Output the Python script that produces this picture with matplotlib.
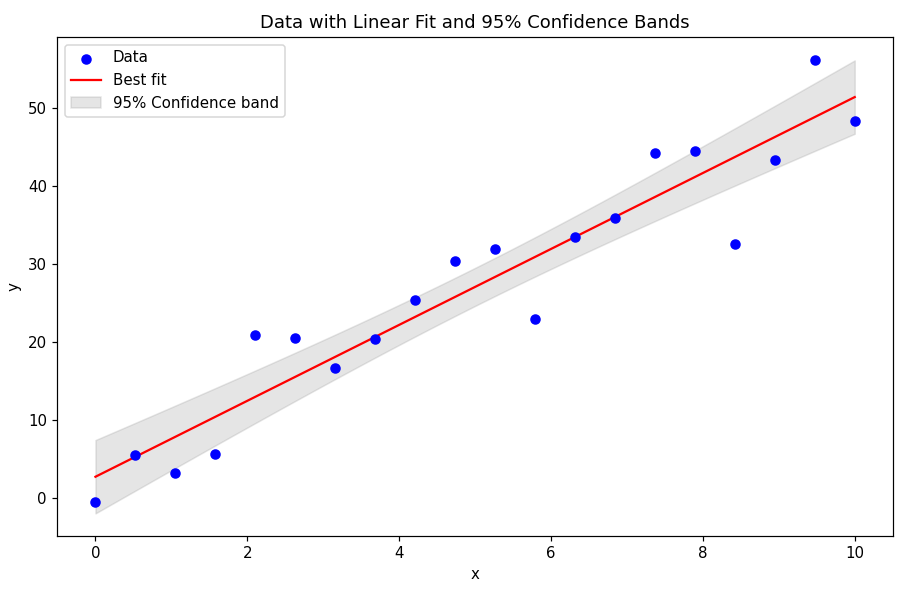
import numpy as np
import matplotlib
matplotlib.use("Agg")
import matplotlib.pyplot as plt

# Observations
x_data = np.linspace(0, 10, 20)
y_data = [-0.5, 5.55, 3.2, 5.68, 20.9, 20.6, 16.74, 20.38, 25.4, 30.4,
          31.9, 23.0, 33.5, 35.85, 44.2, 44.45, 32.6, 43.3, 56.2, 48.3]
y_data = np.array(y_data)

# Ordinary least squares fit
n = len(x_data)
slope, intercept = np.polyfit(x_data, y_data, 1)
x_fit = np.linspace(0, 10, 200)
y_fit = intercept + slope * x_fit

# 95% confidence band for the mean response
resid = y_data - (intercept + slope * x_data)
s_err = np.sqrt(np.sum(resid ** 2) / (n - 2))
x_mean = x_data.mean()
sxx = np.sum((x_data - x_mean) ** 2)
t_crit = 2.100922  # t(0.975, df=18)
half = t_crit * s_err * np.sqrt(1.0 / n + (x_fit - x_mean) ** 2 / sxx)

DPI = 108
fig = plt.figure(figsize=(897 / DPI, 592 / DPI), dpi=DPI)
ax = fig.add_axes([0.0641, 0.0946, 0.9311, 0.8429])

ax.scatter(x_data, y_data, color="blue", label="Data", zorder=3)
ax.plot(x_fit, y_fit, color="red", label="Best fit")
ax.fill_between(x_fit, y_fit - half, y_fit + half, color="gray", alpha=0.2,
                label="95% Confidence band")

ax.set_xlim(-0.5, 10.5)
ax.set_ylim(-4.83, 59.1)
ax.set_xlabel("x")
ax.set_ylabel("y")
ax.set_title("Data with Linear Fit and 95% Confidence Bands")
ax.legend(loc="upper left")

fig.savefig("out.png", dpi=DPI)
